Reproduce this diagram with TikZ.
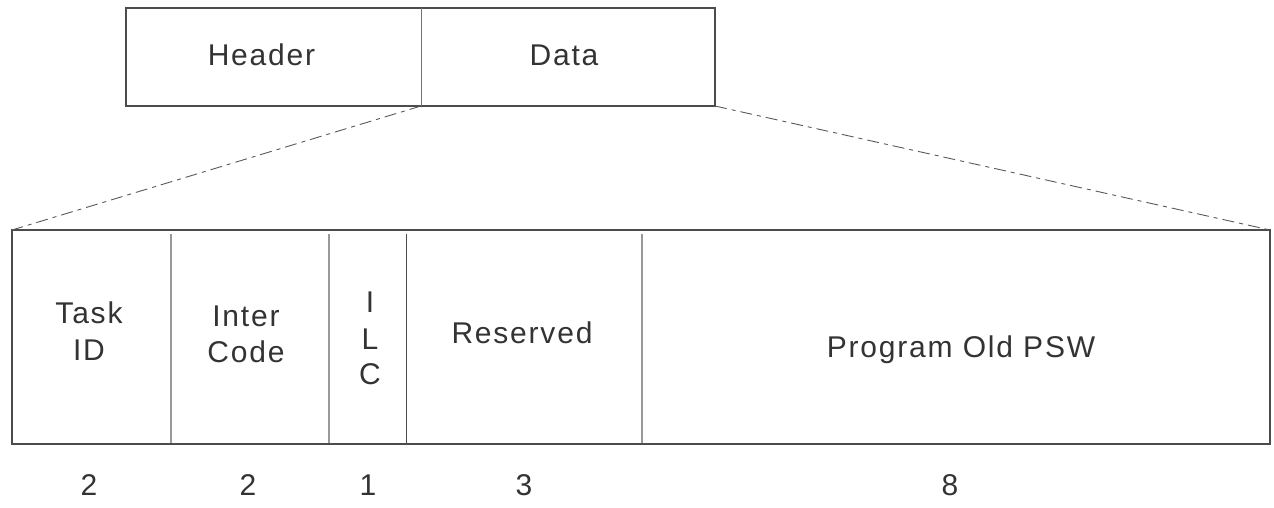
\documentclass[tikz,border=0pt]{standalone}
\usepackage{fontspec}
\setmainfont{Liberation Sans}[LetterSpace=6]
\begin{document}
\begin{tikzpicture}[x=1pt,y=-1pt,
  frame/.style={draw=black!70, line width=1.8pt},
  box/.style={rectangle, inner sep=0pt, outer sep=0pt},
  divider/.style={draw=black!40, line width=1.2pt},
  darkdivider/.style={draw=black!70, line width=0.9pt},
  zoomline/.style={draw=black!65, line width=0.9pt, dash pattern=on 12pt off 5pt on 4pt off 5pt},
  lbl/.style={inner sep=0pt, anchor=base, text=black!80, font=\fontsize{30}{36}\selectfont}
]
\useasboundingbox (0,0) rectangle (1274,508);
% top packet
\node[box, minimum width=295pt, minimum height=98pt] (header) at (273.5,57) {};
\node[box, minimum width=294pt, minimum height=98pt] (data) at (568,57) {};
\draw[frame] (header.north west) rectangle (data.south east);
\draw[draw=black!55, line width=0.9pt] (header.north east) -- (header.south east);
\node[lbl] (headerlbl) at (261.5,66) {Header};
\node[lbl] (datalbl) at (564,66) {Data};
% bottom record
\node[box, minimum width=1258pt, minimum height=214pt] (rec) at (641,337) {};
\coordinate (d1t) at (171,234); \coordinate (d1b) at (171,444);
\coordinate (d2t) at (329,234); \coordinate (d2b) at (329,444);
\coordinate (d3t) at (406,234); \coordinate (d3b) at (406,444);
\coordinate (d4t) at (642,234); \coordinate (d4b) at (642,444);
\draw[divider] (d1t) -- (d1b);
\draw[divider] (d2t) -- (d2b);
\draw[darkdivider] (d3t) -- (d3b);
\draw[divider] (d4t) -- (d4b);
\draw[frame] (rec.north west) rectangle (rec.south east);
% zoom lines
\draw[zoomline] (header.south east) -- (rec.north west);
\draw[zoomline] (data.south east) -- (rec.north east);
% field labels
\node[lbl] (task1) at (89,323) {Task};
\node[lbl] (task2) at (89,360) {ID};
\node[lbl] (inter1) at (246,326) {Inter};
\node[lbl] (inter2) at (246,362) {Code};
\node[lbl] (ilc1) at (370,312) {I};
\node[lbl] (ilc2) at (370,349) {L};
\node[lbl] (ilc3) at (370,384) {C};
\node[lbl] (res) at (522,343) {Reserved};
\node[lbl] (psw) at (961,357) {Program Old PSW};
% sizes
\node[lbl] (n1) at (89,495) {2};
\node[lbl] (n2) at (248,495) {2};
\node[lbl] (n3) at (368,495) {1};
\node[lbl] (n4) at (524,495) {3};
\node[lbl] (n5) at (950,495) {8};
\end{tikzpicture}
\end{document}
